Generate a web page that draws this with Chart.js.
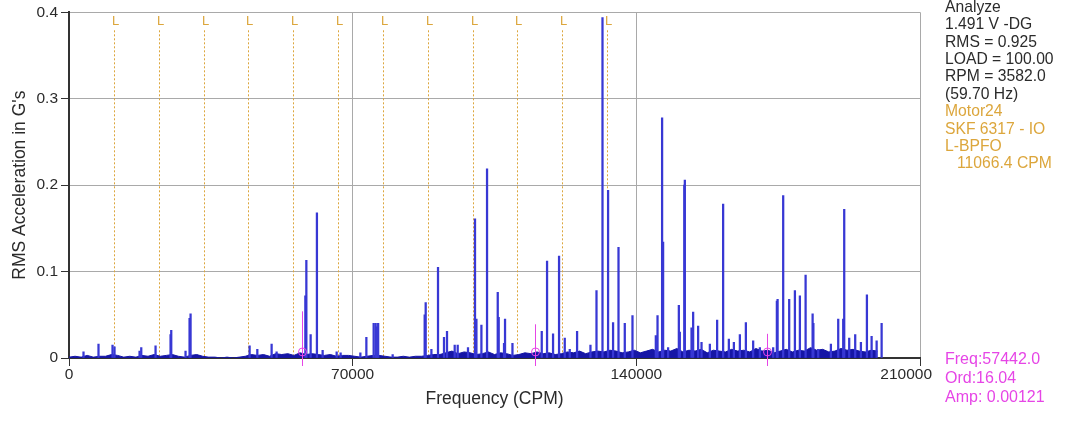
<!DOCTYPE html>
<html>
<head>
<meta charset="utf-8">
<script src="https://cdn.jsdelivr.net/npm/chart.js@4.4.1/dist/chart.umd.min.js"></script>
<style>
  html, body { margin: 0; padding: 0; background: #ffffff; }
  #wrap { width: 1080px; height: 424px; position: relative; }
  canvas { display: block; }
</style>
</head>
<body>
<div id="wrap"><canvas id="c" width="1080" height="424"></canvas></div>
<script>
// ---------------- DATA ----------------
const xTickValues = [0, 70000, 140000, 210000];
const xTickLabels = ['0', '70000', '140000', '210000'];
const yTickValues = [0, 0.1, 0.2, 0.3, 0.4];
const yTickLabels = ['0', '0.1', '0.2', '0.3', '0.4'];

// discrete spectral peaks: frequency (CPM) and RMS amplitude (G)
const peakFreq = [
  3580, 7280, 10740, 11230, 17410, 17830, 21360, 25060, 25230, 28760,
  29750, 30000, 44570, 46470, 50000, 51230, 58320, 58570, 59630, 61180,
  62590, 66050, 67030, 71900, 73380, 75180, 75680, 75920, 76290, 79870,
  87770, 88020, 89430, 91060, 92540, 93280, 95180, 95920, 98460, 100190,
  100540, 101770, 103160, 105800, 106040, 107350, 107600, 109430, 116660, 117970,
  119450, 120930, 122340, 123570, 125380, 128680, 130170, 131650, 133030, 134260,
  135600, 137150, 139050, 144810, 145230, 146360, 146610, 147840, 150490, 150730,
  151840, 151970, 153620, 154020, 155250, 156090, 158140, 159940, 161420, 162830,
  164070, 165550, 167030, 168830, 170480, 173770, 174680, 174860, 176240, 177720,
  179130, 180360, 181770, 183500, 183690, 184880, 188010, 189820, 191050, 191300,
  192530, 194010, 195420, 196900, 198060, 199300, 200530
];
const peakAmp = [
  0.007, 0.016, 0.015, 0.013, 0.008, 0.012, 0.014, 0.027, 0.032, 0.008,
  0.046, 0.051, 0.014, 0.010, 0.016, 0.007, 0.072, 0.113, 0.027, 0.168,
  0.009, 0.007, 0.006, 0.006, 0.024, 0.040, 0.040, 0.036, 0.040, 0.004,
  0.050, 0.064, 0.010, 0.105, 0.024, 0.031, 0.015, 0.015, 0.012, 0.161,
  0.045, 0.038, 0.219, 0.076, 0.047, 0.017, 0.045, 0.017, 0.031, 0.112,
  0.028, 0.118, 0.023, 0.010, 0.031, 0.015, 0.078, 0.394, 0.194, 0.041,
  0.128, 0.040, 0.049, 0.026, 0.049, 0.278, 0.134, 0.012, 0.061, 0.030,
  0.200, 0.206, 0.035, 0.053, 0.037, 0.018, 0.016, 0.044, 0.178, 0.022,
  0.018, 0.027, 0.041, 0.020, 0.012, 0.012, 0.066, 0.068, 0.188, 0.068,
  0.078, 0.072, 0.096, 0.051, 0.040, 0.010, 0.016, 0.045, 0.045, 0.172,
  0.023, 0.027, 0.018, 0.073, 0.025, 0.020, 0.040
];

// broadband noise floor, one value per 1500 CPM bin starting at 0 CPM
const floorStartCPM = 0;
const floorBinCPM = 1500;
const floorAmp = [
  0.001,0.002,0.001,0.003,0.001,0.002,0.002,0.004,0.003,0.001,0.002,0.001,0.003,0.002,0.004,0.002,0.003,
  0.004,0.002,0.001,0.003,0.004,0.002,0.001,0.001,0.000,0.001,0.000,0.001,0.002,0.004,0.003,0.004,0.002,
  0.005,0.004,0.005,0.003,0.006,0.004,0.005,
  0.004,0.003,0.004,0.002,0.003,0.003,0.002,0.001,0.002,0.003,0.003,0.002,0.001,0.001,0.002,0.001,0.002,0.002,0.003,0.004,
  0.004,0.006,0.008,0.005,0.007,0.006,0.004,0.005,0.007,0.004,0.006,0.005,0.003,0.004,0.006,0.005,0.007,0.005,0.006,0.004,0.005,0.007,0.006,0.008,0.005,0.007,
  0.008,0.007,0.009,0.008,0.006,0.007,0.009,0.006,0.008,0.010,
  0.007,0.009,0.008,0.011,0.007,0.009,0.008,0.010,0.006,0.009,
  0.008,0.007,0.010,0.008,0.009,0.007,0.011,0.008,0.009,0.006,
  0.008,0.010,0.007,0.009,0.008,0.012,0.009,0.010,0.007,0.008,
  0.011,0.009,0.010,0.008,0.007,0.009,0.008
];

// fault-frequency markers (L-BPFO) and cursor
const bpfoCPM = 11066.4;
const bpfoOrders = [1, 2, 3, 4, 5, 6, 7, 8, 9, 10, 11, 12];
const cursorCPM = 57442.0;
const cursorOrders = [1, 2, 3];
const cursorMarkAmp = [0.054, 0.039, 0.028];
const cursorDotAmp = 0.007;

const infoDark = ['Analyze', '1.491 V -DG', 'RMS = 0.925', 'LOAD = 100.00', 'RPM = 3582.0', '(59.70 Hz)'];
const infoOrange = ['Motor24', 'SKF 6317 - IO', 'L-BPFO', '  11066.4 CPM'];
const cursorText = ['Freq:57442.0', 'Ord:16.04', 'Amp: 0.00121'];
const xTitle = 'Frequency (CPM)';
const yTitle = "RMS Acceleration in G's";

// ---------------- BUILD ----------------
const peakPts = peakFreq.map((f, i) => ({ x: f, y: peakAmp[i] }));
const floorPts = floorAmp.map((a, i) => ({ x: floorStartCPM + i * floorBinCPM, y: a }));

const FONT = "'Liberation Sans', Arial, sans-serif";
const ORANGE = '#dca63c';
const MAGENTA = '#e645e6';
const TEXT = '#2b2b2b';

const overlay = {
  id: 'overlay',
  beforeDatasetsDraw(chart) {
    const { ctx, scales: { x, y }, chartArea } = chart;
    ctx.save();
    // BPFO harmonic dotted lines with "L" labels
    ctx.strokeStyle = ORANGE;
    ctx.lineWidth = 1;
    ctx.setLineDash([2, 2]);
    ctx.font = '13px ' + FONT;
    ctx.fillStyle = ORANGE;
    ctx.textAlign = 'center';
    ctx.textBaseline = 'middle';
    bpfoOrders.forEach(k => {
      const px = Math.round(x.getPixelForValue(k * bpfoCPM)) + 0.5;
      ctx.beginPath();
      ctx.moveTo(px, chartArea.top + 18);
      ctx.lineTo(px, chartArea.bottom);
      ctx.stroke();
      ctx.fillText('L', px + 1, chartArea.top + 9);
    });
    ctx.restore();
  },
  afterDatasetsDraw(chart) {
    const { ctx, scales: { x, y }, chartArea } = chart;
    ctx.save();
    ctx.strokeStyle = MAGENTA;
    ctx.lineWidth = 1;
    cursorOrders.forEach((k, i) => {
      const px = Math.round(x.getPixelForValue(k * cursorCPM)) + 0.5;
      ctx.beginPath();
      ctx.moveTo(px, chartArea.bottom + 8);
      ctx.lineTo(px, y.getPixelForValue(cursorMarkAmp[i]));
      ctx.stroke();
      ctx.beginPath();
      ctx.arc(px, y.getPixelForValue(cursorDotAmp), 4, 0, Math.PI * 2);
      ctx.stroke();
    });
    ctx.restore();
  },
  afterDraw(chart) {
    const { ctx, scales: { x, y }, chartArea } = chart;
    ctx.save();
    // x tick labels
    ctx.font = '15.5px ' + FONT;
    ctx.fillStyle = TEXT;
    ctx.textBaseline = 'middle';
    xTickValues.forEach((v, i) => {
      const px = x.getPixelForValue(v);
      if (i === xTickValues.length - 1) {
        ctx.textAlign = 'right';
        ctx.fillText(xTickLabels[i], px + 12, chartArea.bottom + 17);
      } else {
        ctx.textAlign = 'center';
        ctx.fillText(xTickLabels[i], px, chartArea.bottom + 17);
      }
    });
    // axis titles
    ctx.font = '17.5px ' + FONT;
    ctx.textAlign = 'center';
    ctx.textBaseline = 'middle';
    ctx.fillText(xTitle, (chartArea.left + chartArea.right) / 2, 399);
    ctx.save();
    ctx.translate(20, (chartArea.top + chartArea.bottom) / 2);
    ctx.rotate(-Math.PI / 2);
    ctx.fillText(yTitle, 0, 0);
    ctx.restore();
    // info panel
    ctx.font = '15.7px ' + FONT;
    ctx.textAlign = 'left';
    ctx.textBaseline = 'middle';
    const lx = chartArea.right + 25;
    let ly = 7.5;
    infoDark.forEach(t => { ctx.fillStyle = TEXT; ctx.fillText(t, lx, ly); ly += 17.4; });
    infoOrange.forEach(t => {
      ctx.fillStyle = ORANGE;
      const indent = t.startsWith('  ') ? 12 : 0;
      ctx.fillText(t.trim(), lx + indent, ly);
      ly += 17.4;
    });
    ctx.font = '16px ' + FONT;
    ctx.fillStyle = MAGENTA;
    cursorText.forEach((t, i) => ctx.fillText(t, lx, chartArea.bottom + 2 + i * 19));
    ctx.restore();
  }
};

new Chart(document.getElementById('c'), {
  type: 'line',
  data: {
    datasets: [
      {
        type: 'line',
        data: floorPts,
        borderColor: '#1616a6',
        backgroundColor: '#1616a6',
        borderWidth: 1,
        pointRadius: 0,
        tension: 0,
        fill: 'origin',
        order: 2
      },
      {
        type: 'bar',
        data: peakPts,
        backgroundColor: '#3838d4',
        borderWidth: 0,
        barThickness: 1.6,
        grouped: false,
        order: 1
      }
    ]
  },
  options: {
    responsive: false,
    animation: false,
    events: [],
    layout: { padding: { top: 12, right: 160, left: 0, bottom: 0 } },
    plugins: { legend: { display: false }, tooltip: { enabled: false } },
    scales: {
      x: {
        type: 'linear',
        min: 0,
        max: 210000,
        offset: false,
        afterBuildTicks: s => { s.ticks = xTickValues.map(v => ({ value: v })); },
        afterFit: s => { s.height = 424 - 358; },
        ticks: { display: false },
        grid: { offset: false, color: '#a9a9a9', lineWidth: 1, tickColor: '#333', tickLength: 8, drawTicks: true },
        border: { color: '#333', width: 2 }
      },
      y: {
        type: 'linear',
        min: 0,
        max: 0.4,
        afterBuildTicks: s => { s.ticks = yTickValues.map(v => ({ value: v })); },
        afterFit: s => { s.width = 69; },
        ticks: {
          padding: 3,
          color: TEXT,
          font: { size: 15.5, family: FONT },
          callback: (v) => { const i = yTickValues.findIndex(t => Math.abs(t - v) < 1e-9); return i >= 0 ? yTickLabels[i] : ''; }
        },
        grid: { color: '#a9a9a9', lineWidth: 1, tickColor: '#333', tickLength: 8 },
        border: { color: '#333', width: 2 }
      }
    }
  },
  plugins: [overlay]
});
</script>
</body>
</html>
